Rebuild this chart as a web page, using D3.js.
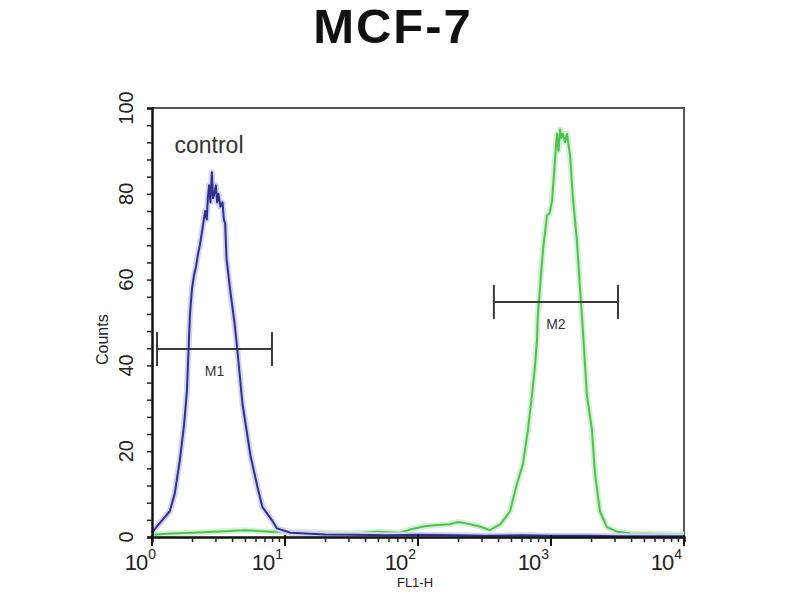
<!DOCTYPE html>
<html>
<head>
<meta charset="utf-8">
<script src="https://cdn.jsdelivr.net/npm/d3@7"></script>
<style>
  html, body { margin: 0; padding: 0; background: #fff; }
  svg { display: block; font-family: "Liberation Sans", Arial, sans-serif; }
</style>
</head>
<body>
<div id="chart"></div>
<script>
// FL1-H channel values and counts
const controlFl = [1.0, 1.09, 1.2, 1.36, 1.48, 1.62, 1.74, 1.83, 1.93, 2.0, 2.07, 2.14, 2.22, 2.29, 2.4, 2.51, 2.58, 2.63, 2.69, 2.75, 2.82, 2.88, 2.95, 3.02, 3.09, 3.16, 3.27, 3.39, 3.47, 3.55, 3.63, 3.89, 4.17, 4.37, 4.79, 5.5, 6.17, 6.76, 7.94, 8.71, 11, 20, 32, 60, 100, 200, 316, 600, 1000, 2000, 3162, 10000];
const controlCounts = [1, 2.5, 4, 6, 10, 18, 26, 34, 52, 58, 61, 63, 66, 68, 72, 76, 74, 79, 82, 78, 85, 79, 80, 82, 78, 80, 77, 78, 74, 73, 65, 57, 50, 44, 31, 19, 12, 7, 4, 2, 1, 0.6, 0.5, 0.4, 0.5, 0.4, 0.3, 0.4, 0.3, 0.3, 0.2, 0.2];

const sampleFl = [1.0, 1.4, 2.0, 3.2, 5.0, 7.9, 12.6, 20, 32, 50, 73, 89, 112, 140, 174, 200, 245, 295, 347, 417, 492, 550, 615, 671, 719, 759, 785, 794, 835, 871, 933, 977, 1019, 1050, 1072, 1109, 1140, 1169, 1200, 1230, 1275, 1318, 1390, 1462, 1567, 1652, 1738, 1862, 2032, 2138, 2333, 2630, 3162, 3981, 6310, 10000];
const sampleCounts = [0.5, 0.8, 1, 1.3, 1.6, 1.2, 1.2, 1, 0.8, 1.2, 1, 1.8, 2.5, 2.8, 3, 3.5, 3, 2.4, 1.6, 3, 6, 12, 17, 25, 33, 40, 46, 51, 60, 67, 75, 75.5, 78.5, 84, 88, 94, 90, 95, 93, 94, 92, 94, 89, 79, 69, 58, 48, 33, 25, 15, 6, 2.3, 1.2, 0.8, 0.7, 0.6];

const yTicks = [0, 20, 40, 60, 80, 100];
const xDecades = [0, 1, 2, 3, 4];

const markers = [
  { name: "M1", from: 1.09, to: 7.98, level: 43.8 },
  { name: "M2", from: 372, to: 3190, level: 54.8 }
];

const width = 800, height = 600;
const margin = { left: 152, right: 116, top: 108, bottom: 63 };

const svg = d3.select("#chart").append("svg")
  .attr("width", width)
  .attr("height", height);

const x = d3.scaleLog()
  .domain([1, 10000])
  .range([margin.left, width - margin.right]);
const y = d3.scaleLinear()
  .domain([0, 100])
  .range([height - margin.bottom, margin.top]);

// title
svg.append("text")
  .attr("x", 393)
  .attr("y", 43)
  .attr("text-anchor", "middle")
  .attr("font-size", 49)
  .attr("font-weight", "bold")
  .attr("letter-spacing", 2)
  .attr("fill", "#111")
  .text("MCF-7");

// frame, top and right
svg.append("path")
  .attr("d", `M${x(1)},${y(100)}H${x(10000)}V${y(0)}`)
  .attr("fill", "none")
  .attr("stroke", "#555")
  .attr("stroke-width", 2);

// curves
const line = d3.line()
  .x(d => x(d[0]))
  .y(d => y(d[1]));

const curves = [
  { fl: sampleFl, counts: sampleCounts, color: "#52bf52", halo: "#d2f3d2" },
  { fl: controlFl, counts: controlCounts, color: "#30308f", halo: "#d4d4f0" }
];

curves.forEach(c => {
  const pts = d3.zip(c.fl, c.counts);
  svg.append("path")
    .attr("d", line(pts))
    .attr("fill", "none")
    .attr("stroke", c.halo)
    .attr("stroke-width", 6)
    .attr("stroke-linejoin", "round");
  svg.append("path")
    .attr("d", line(pts))
    .attr("fill", "none")
    .attr("stroke", c.color)
    .attr("stroke-width", 2)
    .attr("stroke-linejoin", "round");
});

// y axis
const yAxis = svg.append("g")
  .attr("transform", `translate(${x(1)},0)`);
yAxis.call(d3.axisLeft(y).tickValues(d3.range(0, 101, 4)).tickSize(5).tickFormat(""))
  .call(g => g.select(".domain").attr("stroke", "#111").attr("stroke-width", 2.5))
  .call(g => g.selectAll(".tick line").attr("stroke", "#222").attr("stroke-width", 1.5));

yAxis.selectAll(".ylabel")
  .data(yTicks)
  .join("text")
  .attr("class", "ylabel")
  .attr("transform", d => `translate(-19,${y(d)}) rotate(-90)`)
  .attr("text-anchor", "middle")
  .attr("font-size", 20)
  .attr("fill", "#222")
  .text(d => d);

svg.append("text")
  .attr("transform", `translate(108,${y(46)}) rotate(-90)`)
  .attr("text-anchor", "middle")
  .attr("font-size", 16)
  .attr("fill", "#222")
  .text("Counts");

// x axis
const minorTicks = [];
xDecades.slice(0, -1).forEach(e => {
  for (let k = 2; k < 10; k++) minorTicks.push(k * Math.pow(10, e));
});

const xAxis = svg.append("g")
  .attr("transform", `translate(0,${y(0)})`);
xAxis.call(d3.axisBottom(x).tickValues(minorTicks).tickSize(5).tickFormat(""))
  .call(g => g.select(".domain").attr("stroke", "#111").attr("stroke-width", 2.5))
  .call(g => g.selectAll(".tick line").attr("stroke", "#222").attr("stroke-width", 1.5));

xAxis.selectAll(".major")
  .data(xDecades)
  .join("line")
  .attr("class", "major")
  .attr("x1", d => x(Math.pow(10, d)))
  .attr("x2", d => x(Math.pow(10, d)))
  .attr("y1", -2)
  .attr("y2", 9)
  .attr("stroke", "#111")
  .attr("stroke-width", 2);

const xLabel = xAxis.selectAll(".xlabel")
  .data(xDecades)
  .join("text")
  .attr("class", "xlabel")
  .attr("x", d => d === 0 ? x(1) - 12 : x(Math.pow(10, d)) - 18)
  .attr("y", 33)
  .attr("font-size", 22)
  .attr("letter-spacing", -1)
  .attr("fill", "#222");
xLabel.append("tspan").text("10");
xLabel.append("tspan")
  .attr("dy", -11)
  .attr("dx", 1)
  .attr("font-size", 14)
  .text(d => d);

svg.append("text")
  .attr("x", 415)
  .attr("y", 587)
  .attr("text-anchor", "middle")
  .attr("font-size", 13)
  .attr("fill", "#222")
  .text("FL1-H");

// markers
const mk = svg.selectAll(".marker")
  .data(markers)
  .join("g")
  .attr("class", "marker")
  .attr("stroke", "#3a3a3a")
  .attr("stroke-width", 2);
mk.append("line")
  .attr("x1", d => x(d.from))
  .attr("x2", d => x(d.to))
  .attr("y1", d => y(d.level))
  .attr("y2", d => y(d.level));
mk.append("line")
  .attr("x1", d => x(d.from))
  .attr("x2", d => x(d.from))
  .attr("y1", d => y(d.level) - 17)
  .attr("y2", d => y(d.level) + 17);
mk.append("line")
  .attr("x1", d => x(d.to))
  .attr("x2", d => x(d.to))
  .attr("y1", d => y(d.level) - 17)
  .attr("y2", d => y(d.level) + 17);
mk.append("text")
  .attr("x", d => (x(d.from) + x(d.to)) / 2)
  .attr("y", d => y(d.level) + 27)
  .attr("text-anchor", "middle")
  .attr("font-size", 14)
  .attr("stroke", "none")
  .attr("fill", "#333")
  .text(d => d.name);

svg.append("text")
  .attr("x", 209)
  .attr("y", 153)
  .attr("text-anchor", "middle")
  .attr("font-size", 23)
  .attr("fill", "#333")
  .text("control");
</script>
</body>
</html>
